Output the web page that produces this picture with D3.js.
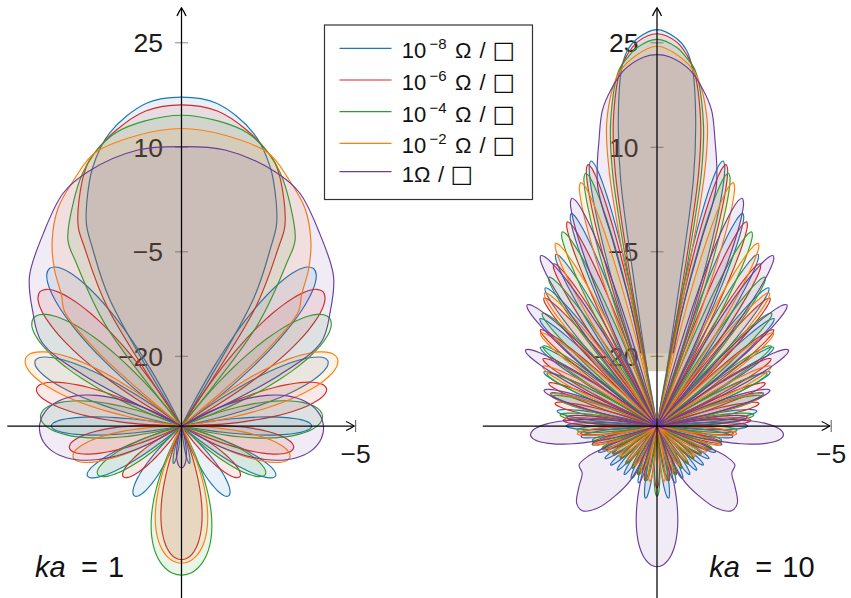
<!DOCTYPE html>
<html>
<head>
<meta charset="utf-8">
<script src="https://cdn.jsdelivr.net/npm/d3@7"></script>
<style>
  body { margin: 0; background: #fff; }
</style>
</head>
<body>
<svg id="chart" width="851" height="598"></svg>
<script>
// ---- series metadata -------------------------------------------------------
const seriesExp = ["−8", "−6", "−4", "−2", null];          // sheet resistance 10^e Ω/□
const seriesColors = ["#1f77b4", "#d62728", "#2ca02c", "#ff7f0e", "#6a3d9a"];
const radialTicks = [25, 10, -5, -20];                       // dB
const floorDb = -30;                                         // level at the origin
const axisTopDb = 30;
const axisSideDb = -5;
const panelLabels = ["1", "10"];                             // ka

// ---- ka = 1 ----------------------------------------------------------------
// main beam samples [angle from broadside (deg), level (dB)], one half, mirrored when drawn
const main1Blue   = [[0,17.2],[6.2,16.6],[13.8,13.3],[18.9,9.3],[23,4.8],[25.3,1.9],[26.5,-1.2],[29.5,-9],[31.5,-30]];
const main1Red    = [[0,16.1],[6.5,15.5],[12.4,13.5],[17.7,11.1],[20.2,9.6],[24.5,5.5],[27.4,2.2],[28.5,-0.8],[32,-10],[34,-30]];
const main1Green  = [[0,14.6],[6.8,14.1],[12.8,13.1],[17.7,11.1],[21.3,9.0],[26,5.5],[31.4,1.3],[32.8,-2],[37,-12],[40,-30]];
const main1Orange = [[0,12.7],[8.5,12.2],[17.7,11.1],[23.3,8.7],[29.6,5.9],[35.1,2.3],[39,-1],[42.5,-4.5],[45.6,-6.5],[48.5,-14],[50.5,-30]];
const main1Purple = [[0,10.1],[9,10.1],[20.2,8.9],[26.9,7.5],[35.7,4.0],[45.5,0.6],[52.5,-3.1],[59,-6.6],[62.5,-14],[65,-30]];

// side lobes [centre angle (deg), peak level (dB), half width (deg)]
const lobes1Blue   = [[40,-0.5,8],[66,-7,7.5],[90,-11.3,6],[118,-14.7,7],[146,-17.9,8],[168,-24.5,4]];
const lobes1Red    = [[46.5,-2.0,8.5],[75.5,-8.5,8],[101,-13.6,8.5],[131,-18.9,8],[180,-10.8,13]];
const lobes1Green  = [[54,-3.7,9.5],[86,-9.7,11],[120,-16.1,8.5],[180,-8.6,17]];
const lobes1Orange = [[66.5,-5.6,9.5],[106,-13.8,9],[180,-10.3,16]];
const lobes1Purple = [[91,-9.6,19],[180,-24,10]];

// ---- ka = 10 ---------------------------------------------------------------
const main10Blue   = [[0,26.9],[2.9,25.7],[4.5,24.1],[5.7,21.4],[7.2,14.3],[8.4,5.7],[9,-8.8],[10,-22]];
const main10Red    = [[0,26.3],[2.9,25.2],[4.7,23.3],[5.9,21.4],[8.1,14.4],[9.3,7.2],[10,-5],[10.6,-22]];
const main10Green  = [[0,25.5],[3,24.4],[4.8,22.8],[6.1,21.4],[8.6,14.4],[9.9,7.3],[10.6,-5],[11.2,-22]];
const main10Orange = [[0,24.5],[3.2,23.3],[6.3,20.8],[9.3,14.5],[10.6,7.4],[11.3,-5],[11.8,-22]];
const main10Purple = [[0,23.3],[2,23],[5.3,21.3],[7.8,18.7],[9.8,16],[11.3,12.3],[13.9,5.4],[13.4,-3],[12.4,-12.5],[12.6,-19.3]];

const lobes10Blue = [[14,9.2,2.7],[22,2.9,2.8],[30.5,-1.4,2.9],[39,-4.5,3],[47.5,-7.2,3],[56,-9.8,3],[64.5,-12,3.2],
  [73,-14,3.3],[81.5,-15.5,3.5],[90,-17,3.5],[98,-19,3.5],[106,-20.3,3.5],[114,-20.8,3.5],[122,-21.2,3.5],
  [130,-21.3,3.5],[138,-21.5,3.5],[146,-21.6,3.5],[154,-21.6,3.5],[162,-21.4,3.5],[171,-19.5,3.5]];
const lobes10Red = [[14.8,8.8,2.7],[23.7,2.0,2.8],[32.5,-2.4,3],[41.5,-5.5,3],[50.5,-8.3,3],[59.5,-11,3.2],
  [68.5,-13.3,3.3],[77.5,-15,3.5],[86.5,-16.5,3.5],[95.5,-19,3.5],[104.5,-20.5,3.5],[113.5,-21.5,3.5],
  [122.5,-22.5,3.5],[131.5,-23,3.5],[140.5,-23,3.5],[149.5,-23,3.5],[158.5,-22.5,3.5],[167.5,-22,3.5],[180,-21.1,3.5]];
const lobes10Green = [[15.8,7.7,2.8],[26,1.0,3],[36,-3.6,3],[45.5,-6.9,3.2],[55,-10,3.2],[64.5,-12.5,3.3],
  [74,-14.5,3.5],[83.5,-16,3.5],[93,-18.5,3.5],[102.5,-20.5,3.5],[112,-21.5,3.5],[121.5,-22.5,3.5],
  [131,-23,3.5],[140.5,-23,3.5],[150,-23,3.5],[159.5,-22.5,3.5],[169,-22,3.5],[180,-19.9,3.5]];
const lobes10Orange = [[17.4,6.6,2.8],[29,0.0,3],[40.2,-5.0,3.2],[51.4,-8.6,3.3],[62.5,-11.5,3.5],[73.5,-14,3.5],
  [84.5,-16.8,3.5],[95.5,-18.5,3.8],[106.5,-20.5,3.5],[117.5,-22,3.5],[128.5,-23,3.5],[139.5,-23.5,3.5],
  [150.5,-23.5,3.5],[161.5,-23,3.5],[172.5,-22,3.5]];
const lobes10Purple = [[20.5,4.9,3.2],[34.3,-0.4,3.5],[47,-4.5,3.6],[60,-8.2,3.8],[72.5,-13,3.8],[84.5,-17,3.5],
  [94,-11.8,8],[180,-9.8,12.5]];
// irregular back-side lobe of the 1 Ω/□ pattern, sampled [angle, dB]
const lobe10PurpleWide = [[108,-30],[112,-24],[113.8,-19.1],[116.6,-17.5],[122.3,-17.3],[127.9,-15.8],
  [133.9,-14],[138.6,-13.8],[144,-15.4],[148.7,-18.1],[154,-21.4],[160,-30]];

const panels = [
  { origin: [181.5, 426], label: panelLabels[0], labelX: 35,
    mains: [main1Blue, main1Red, main1Green, main1Orange, main1Purple],
    lobes: [lobes1Blue, lobes1Red, lobes1Green, lobes1Orange, lobes1Purple],
    sampled: [[], [], [], [], []] },
  { origin: [657, 426], label: panelLabels[1], labelX: 709.3,
    mains: [main10Blue, main10Red, main10Green, main10Orange, main10Purple],
    lobes: [lobes10Blue, lobes10Red, lobes10Green, lobes10Orange, lobes10Purple],
    sampled: [[], [], [], [], [lobe10PurpleWide]] }
];

// ---- drawing ---------------------------------------------------------------
const svg = d3.select("#chart");
const rScale = d3.scaleLinear().domain([floorDb, 25]).range([0, 383.2]);
const rOf = v => rScale(Math.max(v, floorDb));
const rad = d => d * Math.PI / 180;
const radial = d3.lineRadial()
  .angle(d => d[0]).radius(d => d[1])
  .curve(d3.curveCatmullRom.alpha(0.5));

// one half of a sampled curve, mirrored about broadside
function mirroredOutline(samples) {
  const pts = samples.map(([a, v]) => [rad(a), rOf(v)]);
  const other = pts.slice(1).reverse().map(([a, r]) => [-a, r]);
  return other.concat(pts);
}
function sampledOutline(samples, sign) {
  return samples.map(([a, v]) => [sign * rad(a), rOf(v)]);
}
// petal-shaped lobe leaving the origin and peaking at (angle, level)
function petal(angle, level, halfWidth, sign) {
  const L = rOf(level);
  const W = (2 / 3) * L * Math.tan(rad(halfWidth));
  const n = 14, side = [];
  for (let i = 0; i <= n; i++) {
    const f = 1 - Math.pow(1 - i / n, 1.6);
    side.push([f * L, W * f * Math.sqrt(Math.max(0, 1 - f)) / 0.3849]);
  }
  const pts = side.map(([a, b]) => [a, -b]).concat(side.slice(0, n).reverse());
  return pts.map(([a, b]) => [sign * (rad(angle) + Math.atan2(b, a)), Math.hypot(a, b)]);
}

const font = "'Liberation Sans', 'DejaVu Sans', sans-serif";
const symFont = "'DejaVu Sans', sans-serif";

panels.forEach(p => {
  const g = svg.append("g").attr("transform", `translate(${p.origin[0]},${p.origin[1]})`);
  const rTop = rScale(axisTopDb);
  const rSide = rScale(axisSideDb);

  // radial tick marks and labels (under the patterns)
  radialTicks.forEach(t => {
    const y = -rScale(t);
    g.append("line").attr("x1", -6.5).attr("x2", 6.5).attr("y1", y).attr("y2", y)
      .attr("stroke", "#8a8a8a").attr("stroke-width", 1);
    g.append("text").attr("x", -18.5).attr("y", y + 9.5).attr("text-anchor", "end")
      .attr("font-family", font).attr("fill", "#1a1a1a")
      .attr("font-size", 26.5).text(t < 0 ? "−" + Math.abs(t) : String(t));
  });
  g.append("text").attr("x", rSide).attr("y", 37).attr("text-anchor", "middle")
    .attr("font-family", font).attr("fill", "#1a1a1a")
    .attr("font-size", 26.5).text("−" + Math.abs(axisSideDb));

  // patterns
  const layer = g.append("g");
  p.mains.forEach((m, i) => {
    const col = seriesColors[i];
    const paths = [mirroredOutline(m)];
    p.lobes[i].forEach(([a, v, w]) => {
      paths.push(petal(a, v, w, 1));
      if (a !== 180) paths.push(petal(a, v, w, -1));
    });
    p.sampled[i].forEach(s => {
      paths.push(sampledOutline(s, 1));
      paths.push(sampledOutline(s, -1));
    });
    paths.forEach(pts => {
      layer.append("path").attr("d", radial(pts))
        .attr("fill", col).attr("fill-opacity", 0.1)
        .attr("stroke", col).attr("stroke-width", 1.15).attr("stroke-linejoin", "round");
    });
  });

  // axes on top
  const ax = g.append("g").attr("stroke", "#000").attr("stroke-width", 1.25).attr("fill", "none");
  ax.append("line").attr("x1", 0).attr("x2", 0).attr("y1", rSide).attr("y2", -rTop);
  ax.append("line").attr("x1", -rSide).attr("x2", rSide - 1.5).attr("y1", 0).attr("y2", 0);
  ax.append("path").attr("d", `M-4.5,${-rTop + 8} C-3,${-rTop + 4.5} -1,${-rTop + 1.5} 0,${-rTop} C1,${-rTop + 1.5} 3,${-rTop + 4.5} 4.5,${-rTop + 8}`);
  ax.append("path").attr("d", `M${rSide - 9.5},-4.5 C${rSide - 6},-3 ${rSide - 3},-1 ${rSide - 1.5},0 C${rSide - 3},1 ${rSide - 6},3 ${rSide - 9.5},4.5`);
  ax.append("line").attr("x1", rSide).attr("x2", rSide).attr("y1", -6).attr("y2", 6)
    .attr("stroke", "#555").attr("stroke-width", 1);

  // ka label
  const lab = svg.append("text").attr("y", 577).attr("font-size", 29)
    .attr("font-family", font).attr("fill", "#111");
  lab.append("tspan").attr("x", p.labelX).attr("font-style", "italic").text("ka");
  lab.append("tspan").attr("x", p.labelX + 46).text("=");
  lab.append("tspan").attr("x", p.labelX + 73).text(p.label);
});

// ---- legend ------------------------------------------------------------------
const leg = svg.append("g");
leg.append("rect").attr("x", 324.5).attr("y", 25).attr("width", 208).attr("height", 174.5)
  .attr("fill", "#fff").attr("stroke", "#333").attr("stroke-width", 1.2);
const rowY = [48.3, 80, 111.7, 143.3, 171.7];
seriesExp.forEach((e, i) => {
  const y = rowY[i];
  leg.append("line").attr("x1", 339.5).attr("x2", 391.5).attr("y1", y).attr("y2", y)
    .attr("stroke", seriesColors[i]).attr("stroke-width", 1.2);
  const t = leg.append("text").attr("y", y + 10).attr("font-size", 22)
    .attr("font-family", font).attr("fill", "#111");
  if (e) {
    t.append("tspan").attr("x", 401.7).text("10");
    t.append("tspan").attr("x", 429.5).attr("dy", -9).attr("font-size", 15).text(e);
    t.append("tspan").attr("x", 455).attr("dy", 9).text("Ω");
    t.append("tspan").attr("x", 479.5).text("/");
    t.append("tspan").attr("x", 492.5).attr("font-family", symFont).attr("font-size", 24).text("□");
  } else {
    t.append("tspan").attr("x", 401.7).text("1");
    t.append("tspan").attr("x", 414).text("Ω");
    t.append("tspan").attr("x", 438).text("/");
    t.append("tspan").attr("x", 450.5).attr("font-family", symFont).attr("font-size", 24).text("□");
  }
});
</script>
</body>
</html>
